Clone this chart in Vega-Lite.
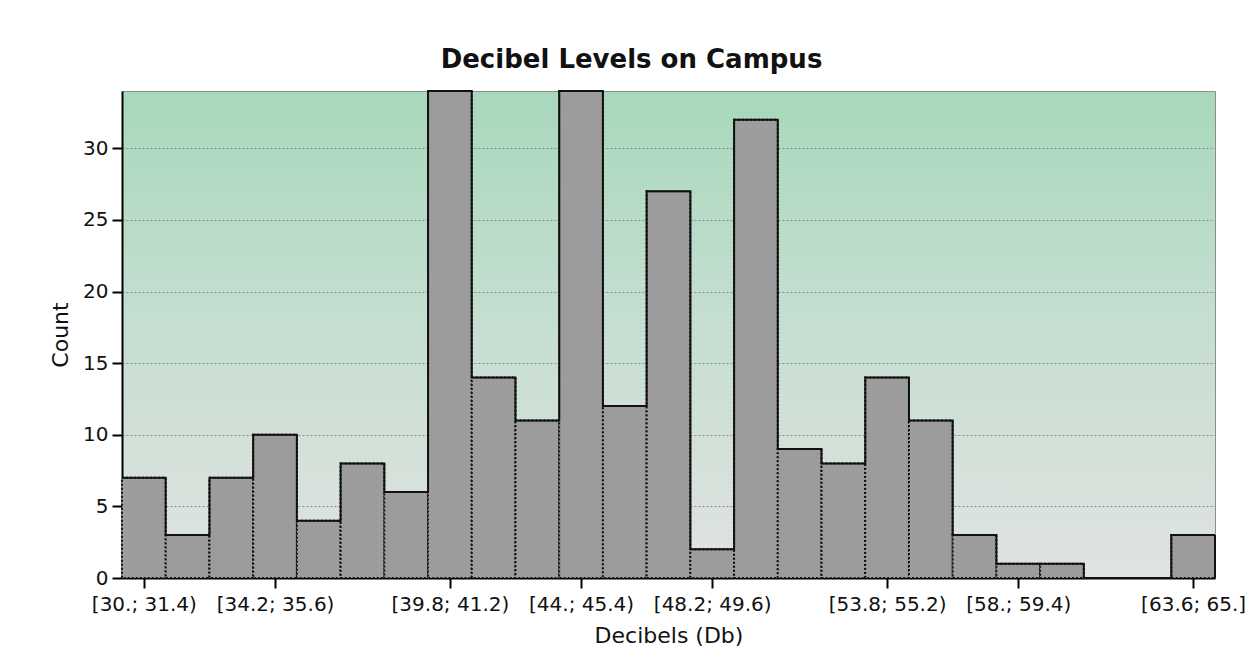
{
  "$schema": "https://vega.github.io/schema/vega-lite/v6.json",
  "autosize": "none",
  "width": 1093,
  "height": 487,
  "padding": {"left": 122, "top": 91, "right": 35, "bottom": 91},
  "background": "white",
  "title": {
    "text": "Decibel Levels on Campus",
    "font": "DejaVu Sans",
    "fontSize": 26,
    "fontWeight": "bold",
    "color": "#111111",
    "anchor": "middle",
    "frame": "group",
    "dx": -37,
    "offset": 14
  },
  "config": {
    "view": {
      "stroke": "#8c8c8c",
      "strokeWidth": 1,
      "fill": {
        "gradient": "linear",
        "x1": 0, "y1": 0, "x2": 0, "y2": 1,
        "stops": [
          {"offset": 0, "color": "#a8d8bb"},
          {"offset": 0.45, "color": "#c4ded0"},
          {"offset": 1, "color": "#e1e3e1"}
        ]
      }
    },
    "axis": {
      "labelFont": "DejaVu Sans",
      "titleFont": "DejaVu Sans",
      "labelFontSize": 20,
      "titleFontSize": 22,
      "titleFontWeight": "normal",
      "labelColor": "#111111",
      "titleColor": "#111111",
      "domainColor": "#000000",
      "domainWidth": 2,
      "tickColor": "#000000",
      "tickWidth": 2,
      "tickSize": 10
    }
  },
  "data": {
    "values": [
      {"idx": 1, "from": 30.0, "to": 31.4, "count": 7},
      {"idx": 2, "from": 31.4, "to": 32.8, "count": 3},
      {"idx": 3, "from": 32.8, "to": 34.2, "count": 7},
      {"idx": 4, "from": 34.2, "to": 35.6, "count": 10},
      {"idx": 5, "from": 35.6, "to": 37.0, "count": 4},
      {"idx": 6, "from": 37.0, "to": 38.4, "count": 8},
      {"idx": 7, "from": 38.4, "to": 39.8, "count": 6},
      {"idx": 8, "from": 39.8, "to": 41.2, "count": 34},
      {"idx": 9, "from": 41.2, "to": 42.6, "count": 14},
      {"idx": 10, "from": 42.6, "to": 44.0, "count": 11},
      {"idx": 11, "from": 44.0, "to": 45.4, "count": 34},
      {"idx": 12, "from": 45.4, "to": 46.8, "count": 12},
      {"idx": 13, "from": 46.8, "to": 48.2, "count": 27},
      {"idx": 14, "from": 48.2, "to": 49.6, "count": 2},
      {"idx": 15, "from": 49.6, "to": 51.0, "count": 32},
      {"idx": 16, "from": 51.0, "to": 52.4, "count": 9},
      {"idx": 17, "from": 52.4, "to": 53.8, "count": 8},
      {"idx": 18, "from": 53.8, "to": 55.2, "count": 14},
      {"idx": 19, "from": 55.2, "to": 56.6, "count": 11},
      {"idx": 20, "from": 56.6, "to": 58.0, "count": 3},
      {"idx": 21, "from": 58.0, "to": 59.4, "count": 1},
      {"idx": 22, "from": 59.4, "to": 60.8, "count": 1},
      {"idx": 23, "from": 60.8, "to": 62.2, "count": 0},
      {"idx": 24, "from": 62.2, "to": 63.6, "count": 0},
      {"idx": 25, "from": 63.6, "to": 65.0, "count": 3}
    ]
  },
  "layer": [
    {
      "mark": {"type": "rect", "fill": "#9c9c9c", "stroke": "#111111", "strokeWidth": 2, "strokeDash": [2, 2]},
      "encoding": {
        "x": {
          "field": "from", "type": "quantitative",
          "scale": {"domain": [30, 65], "nice": false, "zero": false},
          "axis": {
            "title": "Decibels (Db)",
            "values": [30.7, 34.9, 40.5, 44.7, 48.9, 54.5, 58.7, 64.3],
            "labelExpr": "datum.value < 32 ? '[30.; 31.4)' : datum.value < 36 ? '[34.2; 35.6)' : datum.value < 42 ? '[39.8; 41.2)' : datum.value < 46 ? '[44.; 45.4)' : datum.value < 50 ? '[48.2; 49.6)' : datum.value < 56 ? '[53.8; 55.2)' : datum.value < 60 ? '[58.; 59.4)' : '[63.6; 65.]'",
            "labelPadding": 6,
            "titlePadding": 11,
            "grid": false,
            "labelOverlap": false
          }
        },
        "x2": {"field": "to"},
        "y": {
          "field": "count", "type": "quantitative",
          "scale": {"domain": [0, 34], "nice": false},
          "axis": {
            "title": "Count",
            "values": [0, 5, 10, 15, 20, 25, 30],
            "labelPadding": 4,
            "titlePadding": 10,
            "grid": true,
            "gridColor": "#8a8a8a",
            "gridDash": [2, 2],
            "gridWidth": 1
          }
        },
        "y2": {"datum": 0}
      }
    },
    {
      "transform": [{"fold": ["from", "to"], "as": ["side", "edge"]}],
      "mark": {"type": "line", "color": "#111111", "strokeWidth": 2, "strokeJoin": "miter"},
      "encoding": {
        "x": {"field": "edge", "type": "quantitative"},
        "y": {"field": "count", "type": "quantitative"},
        "order": [{"field": "edge", "type": "quantitative"}, {"field": "idx", "type": "quantitative"}]
      }
    },
    {
      "transform": [{"filter": "datum.to == 65"}],
      "mark": {"type": "rule", "color": "#111111", "strokeWidth": 2},
      "encoding": {
        "x": {"field": "to", "type": "quantitative"},
        "y": {"field": "count", "type": "quantitative"},
        "y2": {"datum": 0}
      }
    }
  ]
}
